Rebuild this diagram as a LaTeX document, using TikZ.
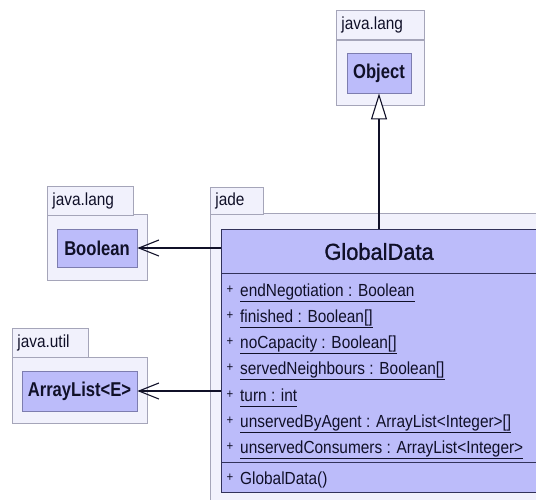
\documentclass[tikz,border=0pt]{standalone}
\usepackage{fontspec}
\usetikzlibrary{arrows.meta}
\newfontfamily\umlfont{Liberation Sans}[FakeStretch=0.88]
\newfontfamily\umlbold{Liberation Sans Bold}[FakeStretch=0.83]
\newfontfamily\umltitle{Liberation Sans}[FakeStretch=0.95, FakeBold=1.2]

\definecolor{pkgfill}{RGB}{241,241,252}
\definecolor{pkgline}{RGB}{165,165,185}
\definecolor{clsfill}{RGB}{188,188,250}
\definecolor{clsline}{RGB}{50,50,90}
\definecolor{refline}{RGB}{125,125,175}
\definecolor{ink}{RGB}{16,16,40}

\begin{document}
\begin{tikzpicture}[x=1pt,y=-1pt,
  pkgbody/.style={draw=pkgline, fill=pkgfill, line width=0.8pt, anchor=north west, inner sep=0pt},
  pkgtab/.style={draw=pkgline, fill=pkgfill, line width=0.8pt, anchor=north west,
    inner xsep=5pt, inner ysep=0pt, align=left, minimum height=29pt,
    font=\umlfont\fontsize{17.5}{20}\selectfont, text=ink},
  refcls/.style={draw=refline, fill=clsfill, line width=0.8pt, inner sep=0pt,
    font=\umlbold\fontsize{20}{22}\selectfont, text=ink},
  clsbox/.style={draw=clsline, fill=clsfill, line width=1.1pt, anchor=north west,
    inner sep=0pt, minimum width=315pt},
  attr/.style={anchor=base west, inner sep=0pt, font=\umlfont\fontsize{17.5}{20}\selectfont, text=ink},
  vis/.style={anchor=base, inner sep=0pt, font=\umlfont\fontsize{13}{15}\selectfont, text=ink},
  uline/.style={draw=ink, line width=0.9pt},
  gen/.style={draw=ink, line width=1.1pt, -{Triangle[open, length=26pt, width=16pt, fill=white]}},
  assoc/.style={draw=ink, line width=1.1pt, -{Straight Barb[length=20pt, width=16pt]}}
]
\useasboundingbox (0,0) rectangle (536,499);
\fill[white] (0,0) rectangle (536,499);

% package java.lang (Object)
\node[pkgbody, minimum width=88pt, minimum height=65pt] (langObjBody) at (336,40) {};
\node[pkgtab, text width=78pt] (langObjTab) at (336,10) {java.lang};
\node[refcls, minimum width=64pt, minimum height=40pt] (object) at (379,73) {Object};

% package java.lang (Boolean)
\node[pkgbody, minimum width=100pt, minimum height=66pt] (langBoolBody) at (47,214) {};
\node[pkgtab, text width=76pt] (langBoolTab) at (47,186) {java.lang};
\node[refcls, minimum width=80pt, minimum height=38pt] (boolean) at (97,248) {Boolean};

% package java.util
\node[pkgbody, minimum width=135pt, minimum height=66pt] (utilBody) at (12,357) {};
\node[pkgtab, text width=66pt] (utilTab) at (12,328) {java.util};
\node[refcls, minimum width=115pt, minimum height=40pt] (arraylist) at (79.5,391) {ArrayList<E>};

% package jade
\node[pkgbody, minimum width=340pt, minimum height=300pt] (jadeBody) at (210,213) {};
\node[pkgtab, text width=43pt, minimum height=27pt] (jadeTab) at (210,187) {jade};

% class GlobalData
\node[clsbox, minimum height=44pt, font=\umltitle\fontsize{23}{26}\selectfont, text=ink]
  (head) at (221,229) {GlobalData};
\node[clsbox, minimum height=189pt] (attrs) at (221,273) {};
\node[clsbox, minimum height=30pt] (ops) at (221,462) {};

\foreach \txt [count=\k] in {
  {endNegotiation : Boolean},
  {finished : Boolean[]},
  {noCapacity : Boolean[]},
  {servedNeighbours : Boolean[]},
  {turn : int},
  {unservedByAgent : ArrayList<Integer>[]},
  {unservedConsumers : ArrayList<Integer>}} {
  \node[attr] (a\k) at (240,{296+26.3*(\k-1)}) {\txt};
  \node[vis] (p\k) at (230,{293+26.3*(\k-1)}) {+};
  \draw[uline] ([yshift=-5pt]a\k.base west) -- ([yshift=-5pt]a\k.base east);
}
\node[attr] (op1) at (240,484) {GlobalData()};
\node[vis] (q1) at (230,481) {+};

% relations
\draw[gen] (object |- head.north) -- (object.south);
\draw[assoc] (head.west |- boolean) -- (boolean.east);
\draw[assoc] (attrs.west |- arraylist) -- (arraylist.east);
\end{tikzpicture}
\end{document}
